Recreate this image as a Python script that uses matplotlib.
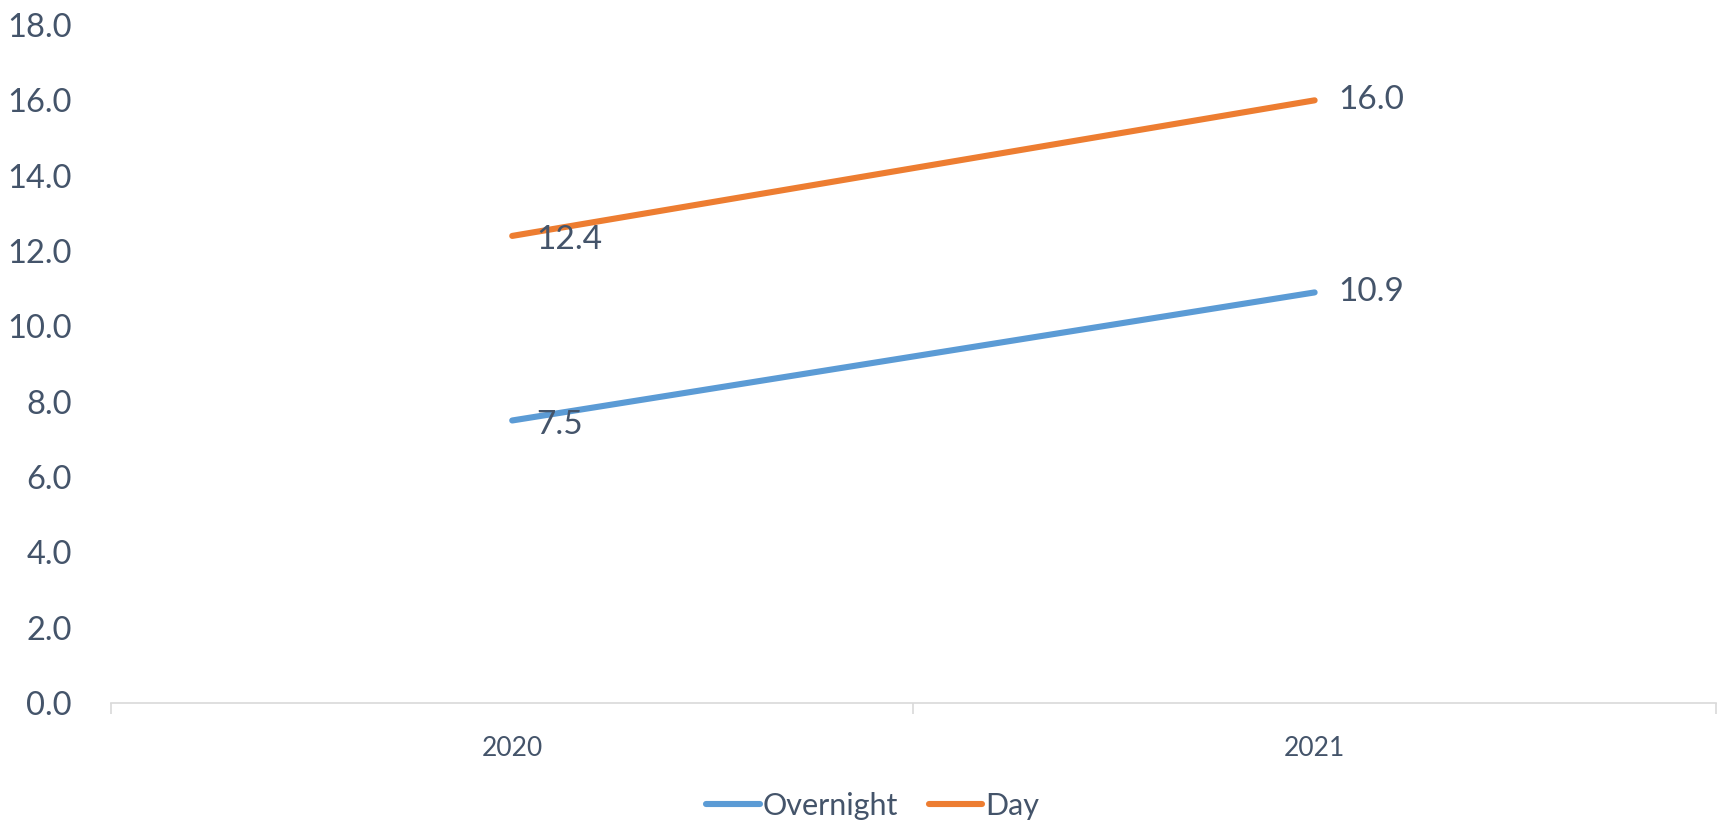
import matplotlib.pyplot as plt

plt.rcParams['font.family'] = ['Lato', 'DejaVu Sans']

years = ["2020", "2021"]
overnight = [7.5, 10.9]
day = [12.4, 16.0]

TEXT = "#44546A"
BLUE = "#5B9BD5"
ORANGE = "#ED7D31"

fig = plt.figure(figsize=(17.21, 8.22), dpi=100)
ax = fig.add_axes([0.0645, 0.1448, 0.9325, 0.8248])

xs = [0.5, 1.5]
ax.plot(xs, overnight, color=BLUE, lw=4.4, solid_capstyle="round", label="Overnight")
ax.plot(xs, day, color=ORANGE, lw=4.4, solid_capstyle="round", label="Day")

# value labels to the right of each point
for series in (overnight, day):
    for i, (x, v) in enumerate(zip(xs, series)):
        dy = -3 if i == 0 else 0
        ax.annotate(f"{v:.1f}", (x, v), xytext=(17, dy), textcoords="offset points",
                    ha="left", va="center", fontsize=24, color=TEXT)

ax.set_xlim(0, 2)
ax.set_ylim(0, 18)
ax.set_yticks(range(0, 19, 2))
ax.set_yticklabels([f"{t:.1f}" for t in range(0, 19, 2)])
ax.set_xticks(xs)
ax.set_xticklabels(years)
ax.set_xticks([0, 1, 2], minor=True)

for s in ("top", "right", "left"):
    ax.spines[s].set_visible(False)
ax.spines["bottom"].set_color("#D9D9D9")
ax.spines["bottom"].set_linewidth(1.2)

ax.tick_params(axis="y", length=0, labelsize=23.5, labelcolor=TEXT, pad=28)
ax.tick_params(axis="x", which="major", length=0, labelsize=19, labelcolor=TEXT, pad=24)
ax.tick_params(axis="x", which="minor", length=8, width=1.2, color="#D9D9D9")

fig.legend(loc="center", bbox_to_anchor=(0.507, 0.0195), ncol=2, frameon=False,
           fontsize=22, labelcolor=TEXT, handlelength=1.75, handletextpad=0.1,
           columnspacing=1.0)

fig.savefig("out.png", dpi=100)
